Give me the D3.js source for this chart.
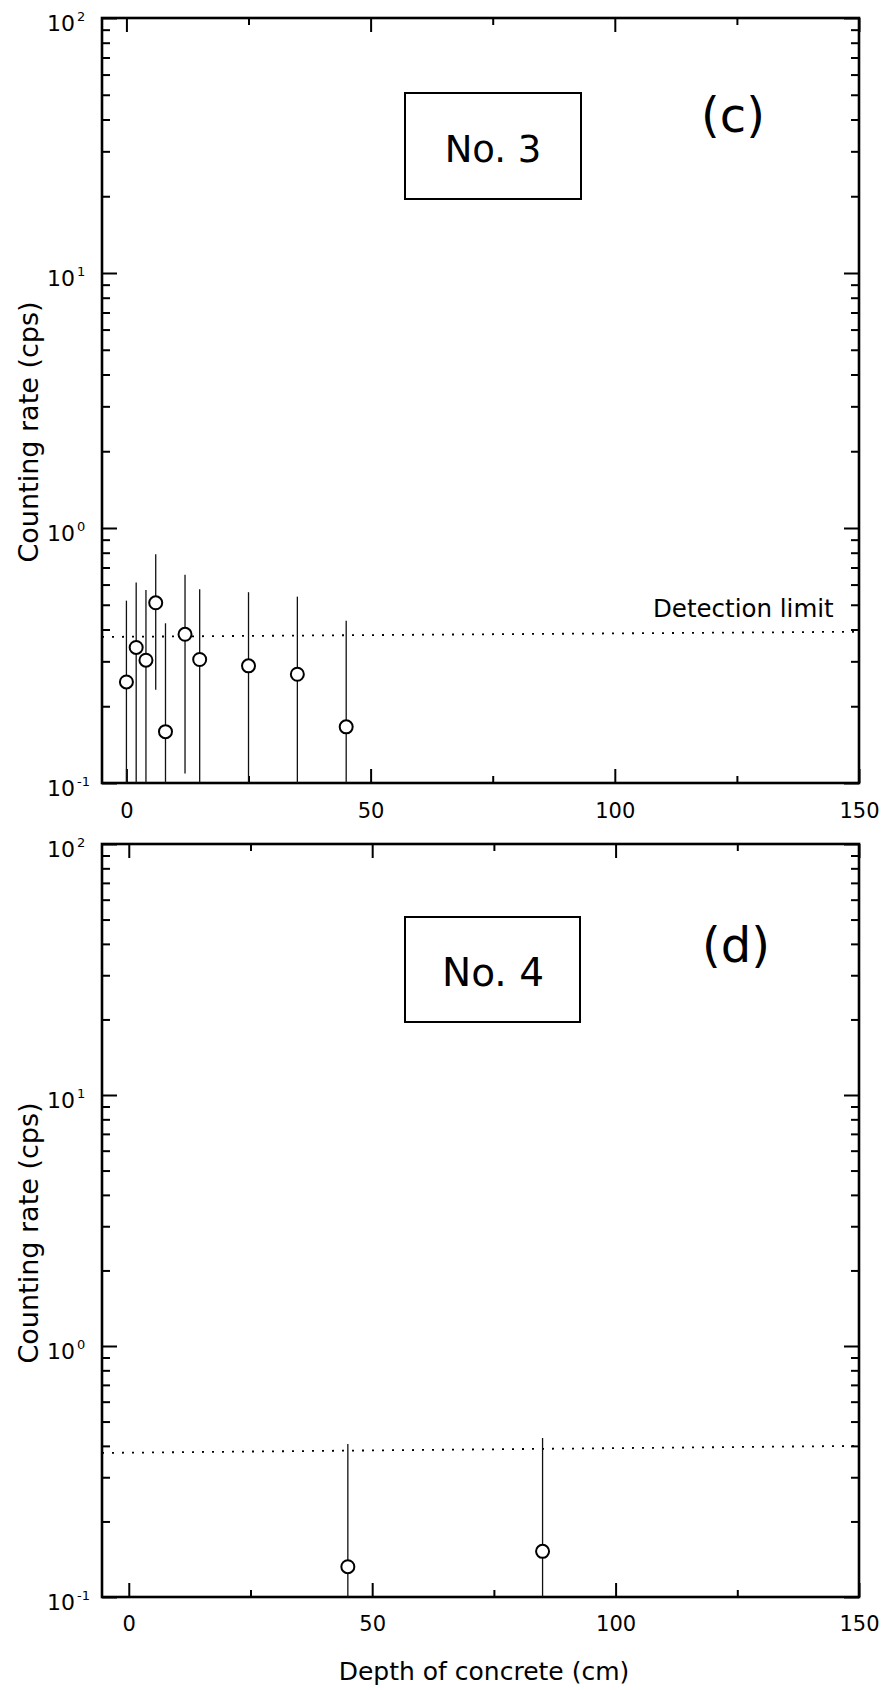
<!DOCTYPE html>
<html><head><meta charset="utf-8">
<script src="https://cdn.jsdelivr.net/npm/d3@7"></script>
<style>body{margin:0;background:#fff}</style>
</head><body><svg id="chart" width="885" height="1690"></svg>
<script>
// ---- data ----
const xTicksMajor = [0, 50, 100, 150];
const xTicksMinor = [25, 75, 125];
const yDecades = [0.1, 1, 10, 100];
const yDecadeExp = ["-1", "0", "1", "2"];

// Panel (c) : No. 3
const depthC = [0, 2, 4, 6, 8, 12, 15, 25, 35, 45];
const rateC  = [0.249, 0.34, 0.303, 0.509, 0.159, 0.383, 0.305, 0.288, 0.267, 0.166];
const errHiC = [0.519, 0.612, 0.571, 0.789, 0.423, 0.655, 0.575, 0.56, 0.538, 0.433];
const errLoC = [0.1, 0.1, 0.1, 0.232, 0.1, 0.109, 0.1, 0.1, 0.1, 0.1];
const detLimitC = [0.374, 0.392];

// Panel (d) : No. 4
const depthD = [45, 85];
const rateD  = [0.132, 0.152];
const errHiD = [0.407, 0.43];
const errLoD = [0.1, 0.1];
const detLimitD = [0.375, 0.40];

const yTitle = "Counting rate (cps)";
const xTitle = "Depth of concrete (cm)";
const detText = "Detection limit";

// ---- layout ----
const FONT = "DejaVu Sans, sans-serif";
const panels = [
  {x0:102, x1:859, y0:18, y1:783, xDom:[-5,150],
   depth:depthC, rate:rateC, hi:errHiC, lo:errLoC, det:detLimitC,
   boxLabel:"No. 3", letter:"(c)", box:[405,93,581,199], boxText:[493,162,37],
   letterPos:[733,132], titleY:432, detLabel:true, xLabPad:20},
  {x0:102, x1:859, y0:844, y1:1597, xDom:[-5.5,150],
   depth:depthD, rate:rateD, hi:errHiD, lo:errLoD, det:detLimitD,
   boxLabel:"No. 4", letter:"(d)", box:[405,917,580,1022], boxText:[493,986,39],
   letterPos:[736,962], titleY:1233, detLabel:false, xLabPad:19}
];

const svg = d3.select("#chart");
svg.append("rect").attr("width",885).attr("height",1690).attr("fill","#fff");

panels.forEach(p => {
  const g = svg.append("g");
  const x = d3.scaleLinear().domain(p.xDom).range([p.x0, p.x1]);
  const y = d3.scaleLog().domain([0.1, 100]).range([p.y1, p.y0]);
  const yMinor = y.ticks().filter(v => !yDecades.some(d => Math.abs(v - d) < 1e-9));

  function styleAxis(sel){
    sel.select(".domain").remove();
    sel.selectAll(".tick line").attr("stroke","#000").attr("stroke-width",2);
  }
  // bottom axis with labels
  const bx = g.append("g").attr("transform",`translate(0,${p.y1})`)
    .call(d3.axisBottom(x).tickValues(xTicksMajor).tickSize(-14).tickSizeOuter(0)
      .tickPadding(p.xLabPad).tickFormat(d3.format("d")));
  styleAxis(bx);
  bx.selectAll("text").attr("font-family",FONT).attr("font-size",21).attr("fill","#000");
  g.append("g").attr("transform",`translate(0,${p.y1})`)
    .call(d3.axisBottom(x).tickValues(xTicksMinor).tickSize(-7).tickSizeOuter(0).tickFormat(""))
    .call(styleAxis);
  // top axis
  g.append("g").attr("transform",`translate(0,${p.y0})`)
    .call(d3.axisTop(x).tickValues(xTicksMajor).tickSize(-14).tickSizeOuter(0).tickFormat(""))
    .call(styleAxis);
  g.append("g").attr("transform",`translate(0,${p.y0})`)
    .call(d3.axisTop(x).tickValues(xTicksMinor).tickSize(-7).tickSizeOuter(0).tickFormat(""))
    .call(styleAxis);
  // left axis
  g.append("g").attr("transform",`translate(${p.x0},0)`)
    .call(d3.axisLeft(y).tickValues(yDecades).tickSize(-15).tickSizeOuter(0).tickFormat(""))
    .call(styleAxis);
  g.append("g").attr("transform",`translate(${p.x0},0)`)
    .call(d3.axisLeft(y).tickValues(yMinor).tickSize(-8).tickSizeOuter(0).tickFormat(""))
    .call(styleAxis);
  // right axis
  g.append("g").attr("transform",`translate(${p.x1},0)`)
    .call(d3.axisRight(y).tickValues(yDecades).tickSize(-15).tickSizeOuter(0).tickFormat(""))
    .call(styleAxis);
  g.append("g").attr("transform",`translate(${p.x1},0)`)
    .call(d3.axisRight(y).tickValues(yMinor).tickSize(-8).tickSizeOuter(0).tickFormat(""))
    .call(styleAxis);

  // frame
  g.append("rect").attr("x",p.x0).attr("y",p.y0)
    .attr("width",p.x1-p.x0).attr("height",p.y1-p.y0)
    .attr("fill","none").attr("stroke","#000").attr("stroke-width",2.6);

  // y decade labels with superscripts
  yDecades.forEach((d,i) => {
    const yy = y(d);
    g.append("text").attr("x",75).attr("y",yy+13).attr("text-anchor","end")
      .attr("font-family",FONT).attr("font-size",22).attr("fill","#000").text("10");
    g.append("text").attr("x",77).attr("y",yy+3).attr("text-anchor","start")
      .attr("font-family",FONT).attr("font-size",13).attr("fill","#000").text(yDecadeExp[i]);
  });

  // y title
  g.append("text").attr("transform",`translate(38,${p.titleY}) rotate(-90)`)
    .attr("text-anchor","middle").attr("font-family",FONT).attr("font-size",27)
    .attr("fill","#000").text(yTitle);

  // detection limit line
  g.append("line").attr("x1",x(p.xDom[0])).attr("x2",x(p.xDom[1]))
    .attr("y1",y(p.det[0])).attr("y2",y(p.det[1]))
    .attr("stroke","#000").attr("stroke-width",1.8).attr("stroke-dasharray","2,8");
  if (p.detLabel) {
    g.append("text").attr("x",653).attr("y",617).attr("font-family",FONT)
      .attr("font-size",24.5).attr("fill","#000").text(detText);
  }

  // label box
  const b = p.box;
  g.append("rect").attr("x",b[0]).attr("y",b[1]).attr("width",b[2]-b[0]).attr("height",b[3]-b[1])
    .attr("fill","#fff").attr("stroke","#000").attr("stroke-width",2);
  g.append("text").attr("x",p.boxText[0]).attr("y",p.boxText[1]).attr("text-anchor","middle")
    .attr("font-family",FONT).attr("font-size",p.boxText[2]).attr("fill","#000").text(p.boxLabel);
  g.append("text").attr("x",p.letterPos[0]).attr("y",p.letterPos[1]).attr("text-anchor","middle")
    .attr("font-family",FONT).attr("font-size",48).attr("fill","#000").text(p.letter);

  // error bars
  const pts = p.depth.map((d,i) => ({d, r:p.rate[i], hi:p.hi[i], lo:p.lo[i]}));
  g.selectAll(".err").data(pts).enter().append("line")
    .attr("x1",v=>x(v.d)).attr("x2",v=>x(v.d))
    .attr("y1",v=>y(v.hi)).attr("y2",v=>y(v.lo))
    .attr("stroke","#111").attr("stroke-width",1.3);
  // points
  g.selectAll(".pt").data(pts).enter().append("circle")
    .attr("cx",v=>x(v.d)).attr("cy",v=>y(v.r)).attr("r",6.5)
    .attr("fill","#fff").attr("stroke","#000").attr("stroke-width",2);
});

// x title
svg.append("text").attr("x",484).attr("y",1680).attr("text-anchor","middle")
  .attr("font-family",FONT).attr("font-size",25).attr("fill","#000").text(xTitle);
</script>
</body></html>
